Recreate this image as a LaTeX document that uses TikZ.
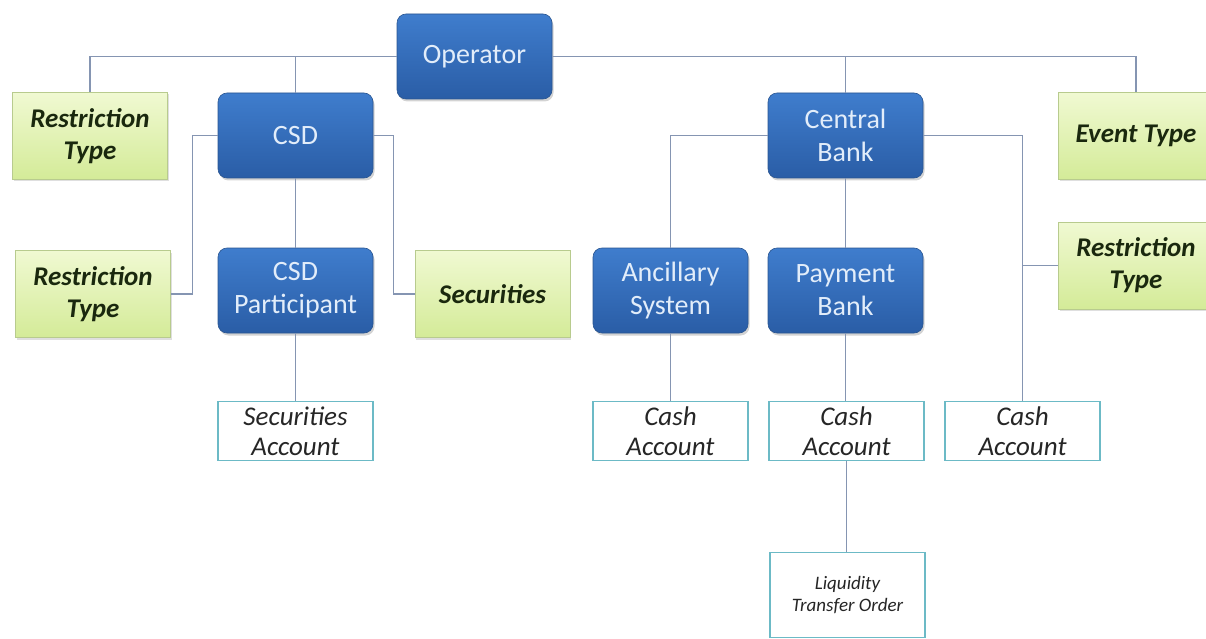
\documentclass[tikz,border=0pt]{standalone}
\usepackage{fontspec}
\setmainfont{Carlito}
\usetikzlibrary{shadows}
\definecolor{bluetop}{HTML}{3F7DCD}
\definecolor{bluebot}{HTML}{2A5DA6}
\definecolor{blueline}{HTML}{2A5590}
\definecolor{bluetext}{HTML}{E2EDFA}
\definecolor{greentop}{HTML}{F0F9D2}
\definecolor{greenbot}{HTML}{D4EB98}
\definecolor{greenline}{HTML}{B8CB8E}
\definecolor{greentext}{HTML}{1A280E}
\definecolor{acctline}{HTML}{6CBAC6}
\definecolor{conn}{HTML}{8595B2}
\tikzset{
  bluebox/.style={rounded corners=9pt, top color=bluetop, bottom color=bluebot, draw=blueline, line width=0.6pt,
    text=bluetext, align=center, minimum width=155pt, minimum height=85pt, inner sep=2pt,
    font=\fontsize{28}{33}\selectfont,
    drop shadow={shadow xshift=1.5pt, shadow yshift=-2.5pt, opacity=0.35}},
  greenbox/.style={top color=greentop, bottom color=greenbot, draw=greenline, line width=0.8pt,
    text=greentext, align=center, minimum width=155pt, minimum height=87pt, inner sep=2pt,
    font=\fontsize{27}{32}\selectfont\bfseries\itshape,
    drop shadow={shadow xshift=1pt, shadow yshift=-2pt, opacity=0.25}},
  acctbox/.style={fill=white, draw=acctline, line width=1.5pt, text=black!85, align=center,
    minimum width=155pt, minimum height=59pt, inner sep=2pt,
    font=\fontsize{27}{30}\selectfont\itshape},
  smallacct/.style={acctbox, font=\fontsize{19}{22}\selectfont\itshape, minimum height=85pt},
  conn/.style={draw=conn, line width=1.3pt}
}
\begin{document}
\begin{tikzpicture}[x=1pt,y=-1pt]
\useasboundingbox (0,0) rectangle (1206,639);
% nodes
\node[bluebox] (op) at (474.5,56.5) {Operator};
\node[greenbox] (rt1) at (90,136) {Restriction\\Type};
\node[bluebox] (csd) at (295.5,135.5) {CSD};
\node[bluebox] (cb) at (845.5,135.5) {Central\\Bank};
\node[greenbox] (ev) at (1136,136) {Event Type};
\node[greenbox] (rt2) at (93,294) {Restriction\\Type};
\node[bluebox] (csdp) at (295.5,290.5) {CSD\\Participant};
\node[greenbox] (sec) at (492.5,294) {Securities};
\node[bluebox] (anc) at (670.5,290.5) {Ancillary\\System};
\node[bluebox] (pb) at (845.5,290.5) {Payment\\Bank};
\node[greenbox] (rt3) at (1136,265.5) {Restriction\\Type};
\node[acctbox] (sa) at (295.5,431) {Securities\\Account};
\node[acctbox] (ca1) at (670.5,431) {Cash\\Account};
\node[acctbox] (ca2) at (846.5,431) {Cash\\Account};
\node[acctbox] (ca3) at (1022.5,431) {Cash\\Account};
\node[smallacct] (lto) at (847.5,595) {Liquidity\\Transfer Order};
% connectors
\path[conn] (op.west) -| (rt1.north);
\path[conn] (op.west) -| (csd.north);
\path[conn] (op.east) -| (cb.north);
\path[conn] (op.east) -| (ev.north);
\path[conn] (csd.west) -- ++(-25,0) |- (rt2.east);
\path[conn] (csd.east) -- ++(20,0) |- (sec.west);
\path[conn] (csd.south) -- (csdp.north);
\path[conn] (csdp.south) -- (sa.north);
\path[conn] (cb.west) -| (anc.north);
\path[conn] (cb.south) -- (pb.north);
\path[conn] (cb.east) -| (ca3.north);
\path[conn] (rt3.west) -- (rt3.west -| ca3.north);
\path[conn] (anc.south) -- (ca1.north);
\path[conn] (pb.south) -- (pb.south |- ca2.north);
\path[conn] (ca2.south) -- (ca2.south |- lto.north);
\end{tikzpicture}
\end{document}
